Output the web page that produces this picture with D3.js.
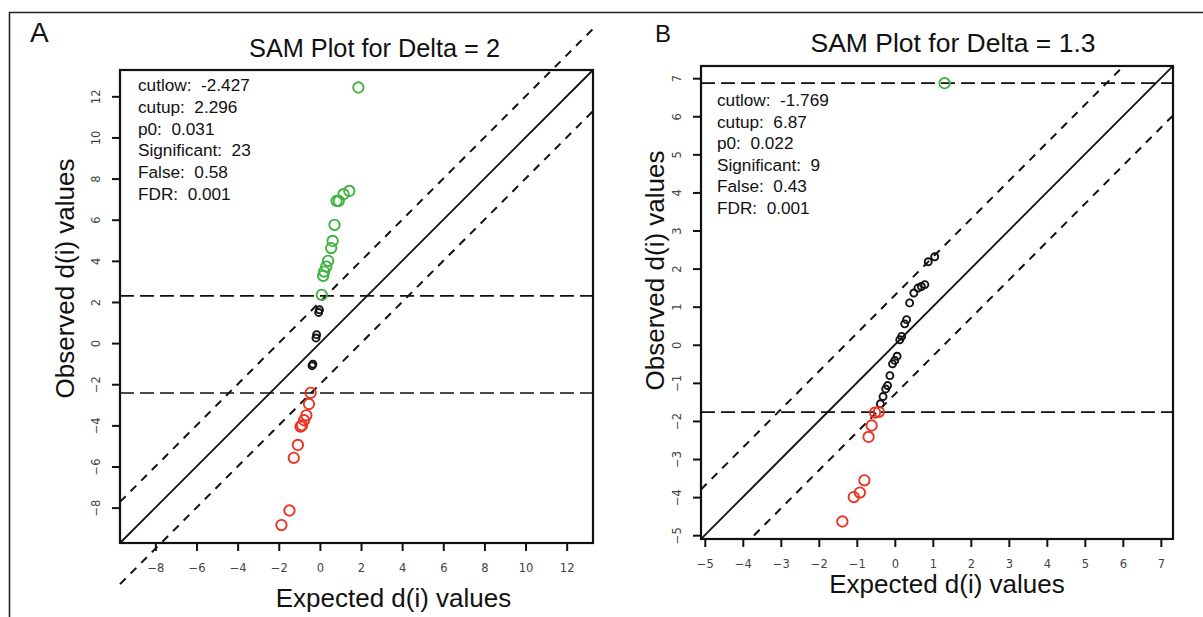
<!DOCTYPE html>
<html>
<head>
<meta charset="utf-8">
<script src="https://cdn.jsdelivr.net/npm/d3@7"></script>
<style>
  html, body { margin: 0; padding: 0; background: #fff; }
  svg { display: block; font-family: "Liberation Sans", Arial, Helvetica, sans-serif; }
  text { white-space: pre; }
</style>
</head>
<body>
<svg id="chart" width="1203" height="617"></svg>
<script>
// ---- Panel A: SAM plot, Delta = 2 ----
const deltaA = 2;
const cutlowA = -2.427;
const cutupA = 2.296;
const statsA = { p0: 0.031, significant: 23, falseCalls: 0.58, fdr: 0.001 };
const ticksA = [-8, -6, -4, -2, 0, 2, 4, 6, 8, 10, 12];
// [expected, observed] pairs
const upA = [
  [1.87, 12.43], [1.43, 7.40], [1.15, 7.24], [0.92, 6.91], [0.81, 6.91],
  [0.71, 5.75], [0.62, 4.97], [0.55, 4.62], [0.40, 4.00], [0.31, 3.72],
  [0.21, 3.48], [0.16, 3.27], [0.09, 2.35]
];
const neutralA = [
  [-0.02, 1.62], [-0.06, 1.49], [-0.16, 0.41], [-0.19, 0.25], [-0.34, -1.02], [-0.38, -1.10]
];
const downA = [
  [-0.45, -2.42], [-0.53, -2.96], [-0.66, -3.51], [-0.77, -3.75], [-0.87, -4.00],
  [-0.94, -4.06], [-1.07, -4.95], [-1.27, -5.58], [-1.48, -8.14], [-1.87, -8.85]
];

// ---- Panel B: SAM plot, Delta = 1.3 ----
const deltaB = 1.3;
const cutlowB = -1.769;
const cutupB = 6.87;
const statsB = { p0: 0.022, significant: 9, falseCalls: 0.43, fdr: 0.001 };
const ticksB = [-5, -4, -3, -2, -1, 0, 1, 2, 3, 4, 5, 6, 7];
const upB = [[1.31, 6.87]];
const neutralB = [
  [1.05, 2.31], [0.88, 2.18], [0.79, 1.58], [0.70, 1.53], [0.61, 1.49], [0.50, 1.36],
  [0.39, 1.10], [0.31, 0.66], [0.26, 0.55], [0.18, 0.22], [0.13, 0.13], [0.06, -0.30],
  [0.00, -0.41], [-0.06, -0.50], [-0.13, -0.81], [-0.19, -1.07], [-0.24, -1.16],
  [-0.31, -1.36], [-0.38, -1.55]
];
const downB = [
  [-0.42, -1.76], [-0.52, -1.78], [-0.61, -2.12], [-0.69, -2.42],
  [-0.80, -3.56], [-0.92, -3.88], [-1.08, -4.00], [-1.38, -4.64]
];

const GREEN = "#3fb23f";
const RED = "#ec3322";
const INK = "#111";

const svg = d3.select("#chart");

// outer frame around both panels
svg.append("path")
  .attr("d", "M9.5,617 V12.5 H1203")
  .attr("fill", "none").attr("stroke", "#222").attr("stroke-width", 1.6);

function statLines(cutlow, cutup, s) {
  return [
    `cutlow:  ${cutlow}`,
    `cutup:  ${cutup}`,
    `p0:  ${s.p0}`,
    `Significant:  ${s.significant}`,
    `False:  ${s.falseCalls}`,
    `FDR:  ${s.fdr}`
  ];
}

function drawPanel(cfg) {
  const g = svg.append("g");
  const x = d3.scaleLinear().domain(cfg.domain).range([cfg.left, cfg.right]);
  const y = d3.scaleLinear().domain(cfg.domain).range([cfg.bottom, cfg.top]);
  const [d0, d1] = cfg.domain;

  const clipId = "clip-" + cfg.id;
  g.append("clipPath").attr("id", clipId)
    .append("rect")
    .attr("x", cfg.left).attr("y", cfg.top)
    .attr("width", cfg.right - cfg.left).attr("height", cfg.bottom - cfg.top);

  // panel letter and title
  g.append("text").attr("x", cfg.letterX).attr("y", 42)
    .attr("font-size", cfg.letterSize).attr("fill", INK).text(cfg.letter);
  g.append("text").attr("x", cfg.titleX).attr("y", cfg.titleY)
    .attr("text-anchor", "middle").attr("font-size", cfg.titleSize).attr("fill", INK)
    .text(`SAM Plot for Delta = ${cfg.delta}`);

  // axes
  const xAxis = d3.axisBottom(x).tickValues(cfg.ticks).tickSize(8).tickPadding(13)
    .tickFormat(d3.format("d"));
  const yAxis = d3.axisLeft(y).tickValues(cfg.ticks).tickSize(8)
    .tickFormat(d3.format("d"));

  const gx = g.append("g").attr("transform", `translate(0,${cfg.bottom})`).call(xAxis);
  const gy = g.append("g").attr("transform", `translate(${cfg.left},0)`).call(yAxis);
  [gx, gy].forEach(a => {
    a.select(".domain").remove();
    a.selectAll(".tick line").attr("stroke", INK).attr("stroke-width", 2);
    a.selectAll(".tick text").attr("fill", "#444")
      .attr("font-family", "'DejaVu Sans', 'Liberation Sans', sans-serif")
      .style("font-size", "11.5px");
  });
  gy.selectAll(".tick text")
    .attr("text-anchor", "middle")
    .attr("x", null).attr("dy", null)
    .attr("transform", "translate(-24,0) rotate(-90)")
    .attr("y", 4);

  // axis titles
  g.append("text")
    .attr("transform", `translate(${cfg.yLabelX},${cfg.yLabelY}) rotate(-90)`)
    .attr("text-anchor", "middle").attr("font-size", 26).attr("fill", INK)
    .text("Observed d(i) values");
  g.append("text")
    .attr("x", cfg.xLabelX).attr("y", cfg.xLabelY)
    .attr("text-anchor", "middle").attr("font-size", 26).attr("fill", INK)
    .text("Expected d(i) values");

  // reference lines
  const lines = g.append("g");
  if (cfg.clipDiagonals) lines.attr("clip-path", `url(#${clipId})`);
  lines.append("line")
    .attr("x1", x(d0)).attr("y1", y(d0)).attr("x2", x(d1)).attr("y2", y(d1))
    .attr("stroke", INK).attr("stroke-width", 1.8);
  [cfg.delta, -cfg.delta].forEach(off => {
    lines.append("line")
      .attr("x1", x(d0)).attr("y1", y(d0 + off)).attr("x2", x(d1)).attr("y2", y(d1 + off))
      .attr("stroke", INK).attr("stroke-width", 2).attr("stroke-dasharray", "8,7");
  });
  [cfg.cutup, cfg.cutlow].forEach(c => {
    g.append("line")
      .attr("x1", x(d0)).attr("x2", x(d1)).attr("y1", y(c)).attr("y2", y(c))
      .attr("stroke", INK).attr("stroke-width", 1.6).attr("stroke-dasharray", "14,6");
  });

  // plot box
  g.append("rect")
    .attr("x", cfg.left).attr("y", cfg.top)
    .attr("width", cfg.right - cfg.left).attr("height", cfg.bottom - cfg.top)
    .attr("fill", "none").attr("stroke", INK).attr("stroke-width", 2.2);

  // statistics text
  g.append("g").selectAll("text")
    .data(statLines(cfg.cutlow, cfg.cutup, cfg.stats))
    .join("text")
    .attr("x", cfg.statX)
    .attr("y", (d, i) => cfg.statY + i * cfg.statStep)
    .attr("font-size", 17.2).attr("fill", INK)
    .text(d => d);

  // points
  const pts = g.append("g").attr("fill", "none");
  pts.selectAll(".neutral").data(cfg.neutral).join("circle")
    .attr("cx", d => x(d[0])).attr("cy", d => y(d[1])).attr("r", 3.5)
    .attr("stroke", INK).attr("stroke-width", 1.9);
  pts.selectAll(".up").data(cfg.up).join("circle")
    .attr("cx", d => x(d[0])).attr("cy", d => y(d[1])).attr("r", 5.2)
    .attr("stroke", GREEN).attr("stroke-width", 1.9);
  pts.selectAll(".down").data(cfg.down).join("circle")
    .attr("cx", d => x(d[0])).attr("cy", d => y(d[1])).attr("r", 5.2)
    .attr("stroke", RED).attr("stroke-width", 1.9);
}

drawPanel({
  id: "a", letter: "A", letterX: 30, letterSize: 28,
  delta: deltaA, cutlow: cutlowA, cutup: cutupA, stats: statsA,
  domain: [-9.72, 13.28], ticks: ticksA,
  left: 120, right: 593, top: 70, bottom: 543,
  titleX: 374.5, titleY: 57, titleSize: 25.3,
  yLabelX: 74, yLabelY: 278.5, xLabelX: 393.5, xLabelY: 607,
  statX: 138, statY: 90.7, statStep: 21.9,
  clipDiagonals: false,
  up: upA, neutral: neutralA, down: downA
});

drawPanel({
  id: "b", letter: "B", letterX: 655, letterSize: 24,
  delta: deltaB, cutlow: cutlowB, cutup: cutupB, stats: statsB,
  domain: [-5.1, 7.32], ticks: ticksB,
  left: 701, right: 1173, top: 66, bottom: 539,
  titleX: 953, titleY: 52, titleSize: 26.5,
  yLabelX: 664, yLabelY: 270.5, xLabelX: 947, xLabelY: 593,
  statX: 717, statY: 106, statStep: 21.5,
  clipDiagonals: true,
  up: upB, neutral: neutralB, down: downB
});
</script>
</body>
</html>
